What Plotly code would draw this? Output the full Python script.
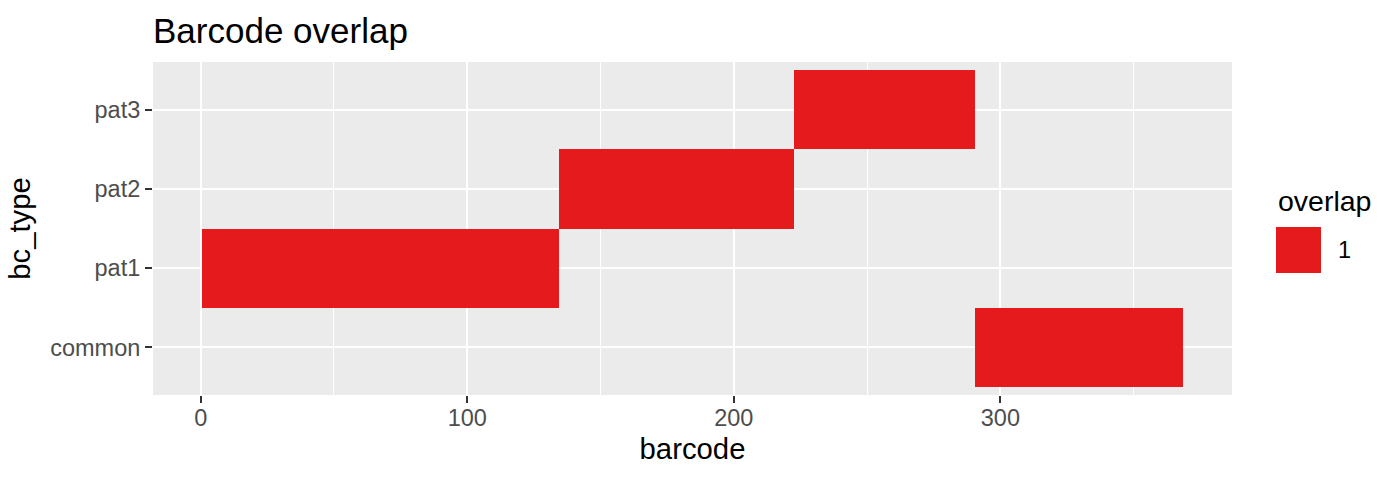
import plotly.graph_objects as go

# Data
categories = ["common", "pat1", "pat2", "pat3"]
bc_start = [291, 1, 135, 223]
bc_end = [368, 134, 222, 290]
overlap_value = ["1"]

W, H = 1400, 480
L, R, T, B = 153, 168, 62, 85
FONT = "Liberation Sans, Arial, Helvetica, sans-serif"
RED = "#E41A1C"

fig = go.Figure()
fig.add_trace(go.Bar(
    y=categories,
    x=[e - s + 1 for s, e in zip(bc_start, bc_end)],
    base=[s - 0.5 for s in bc_start],
    orientation="h",
    width=1,
    marker=dict(color=RED, line=dict(width=0)),
    showlegend=False,
    hoverinfo="skip",
))

lo = min(bc_start) - 0.5
hi = max(bc_end) + 0.5
pad = (hi - lo) * 0.05

fig.update_layout(
    width=W, height=H,
    margin=dict(l=L, r=R, t=T, b=B, autoexpand=False),
    paper_bgcolor="white",
    plot_bgcolor="#EBEBEB",
    font=dict(family=FONT, color="black"),
    title=dict(text="Barcode overlap", x=L / W, xanchor="left", xref="container",
               y=1 - 31 / H, yanchor="middle", yref="container",
               font=dict(size=35, color="black"), pad=dict(l=0, t=0, b=0, r=0)),
    xaxis=dict(
        range=[lo - pad, hi + pad],
        tickmode="array", tickvals=[0, 100, 200, 300], ticktext=["0", "100", "200", "300"],
        showgrid=True, gridcolor="white", gridwidth=2,
        minor=dict(tickmode="array", tickvals=[50, 150, 250, 350], showgrid=True,
                   gridcolor="white", gridwidth=1, ticks=""),
        zeroline=False, showline=False,
        ticks="outside", ticklen=7, tickwidth=2, tickcolor="#333333",
        tickfont=dict(size=23.5, color="#4D4D4D"),
        ticklabelstandoff=-5,
        title=dict(text="barcode", font=dict(size=29.3, color="black"), standoff=8),
    ),
    yaxis=dict(
        type="category", categoryorder="array", categoryarray=categories,
        range=[-0.6, len(categories) - 1 + 0.6],
        showgrid=True, gridcolor="white", gridwidth=2,
        zeroline=False, showline=False,
        ticks="outside", ticklen=7, tickwidth=2, tickcolor="#333333",
        tickfont=dict(size=23.5, color="#4D4D4D"),
        title=dict(text="bc_type", font=dict(size=29.3, color="black"), standoff=10),
    ),
    bargap=0,
)

# Legend (manual, ggplot style)
fig.add_annotation(text="overlap", xref="paper", yref="paper",
                   x=(1276 - L) / (W - L - R), y=1 - (201 - T) / (H - T - B),
                   xanchor="left", yanchor="middle", showarrow=False,
                   font=dict(size=28.5, color="black"))
fig.add_shape(type="rect", xref="paper", yref="paper",
              x0=(1276 - L) / (W - L - R), x1=(1321 - L) / (W - L - R),
              y0=1 - (273 - T) / (H - T - B), y1=1 - (227 - T) / (H - T - B),
              fillcolor=RED, line=dict(width=0))
fig.add_annotation(text=overlap_value[0], xref="paper", yref="paper",
                   x=(1336 - L) / (W - L - R), y=1 - (250 - T) / (H - T - B),
                   xanchor="left", yanchor="middle", showarrow=False,
                   font=dict(size=23.5, color="black"))

fig.write_html("out.html", config={"displayModeBar": False},
               post_script="document.body.style.margin='0px';")
